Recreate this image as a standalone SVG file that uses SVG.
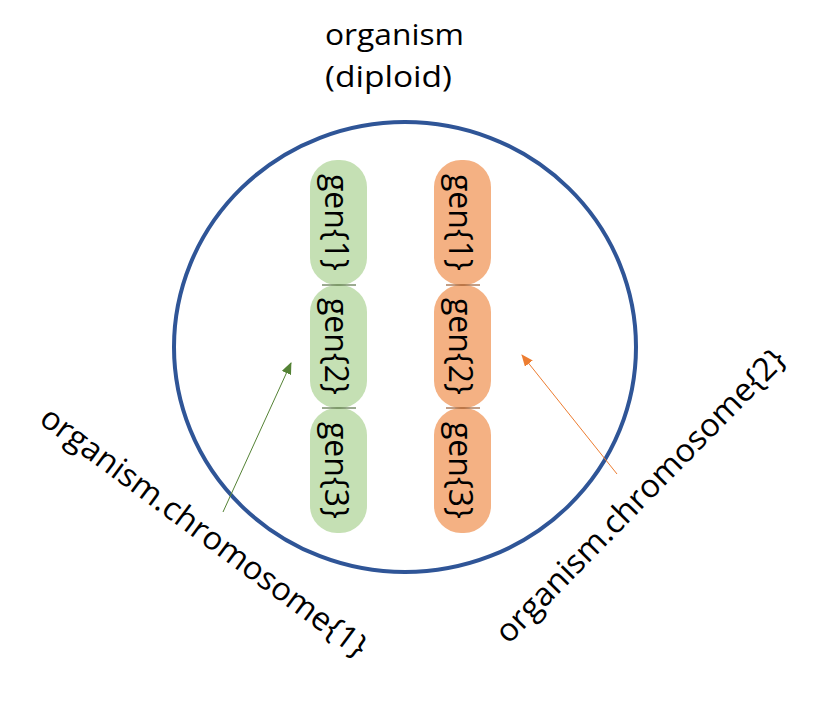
<svg xmlns="http://www.w3.org/2000/svg" width="823" height="701" viewBox="0 0 823 701">
<style>
text{font-family:"Open Sans","Noto Sans","Liberation Sans",sans-serif;fill:#000}
.t{font-size:30px}
.lab{font-size:32px}
.gene{font-size:32px}
.g{fill:#C5E0B4}
.o{fill:#F4B183}
.gl{stroke:#385723;stroke-width:1}
.ol{stroke:#843C0C;stroke-width:1}
</style>
<defs>
<marker id="ag" markerUnits="userSpaceOnUse" markerWidth="12" markerHeight="10" refX="11" refY="5" orient="auto"><path d="M0,0 L12,5 L0,10 z" fill="#548235"/></marker>
<marker id="ao" markerUnits="userSpaceOnUse" markerWidth="12" markerHeight="10" refX="11" refY="5" orient="auto"><path d="M0,0 L12,5 L0,10 z" fill="#ED7D31"/></marker>
</defs>
<rect width="823" height="701" fill="#fff"/>
<g id="title">
<text class="t" x="325" y="45" textLength="139" lengthAdjust="spacingAndGlyphs">organism</text>
<text class="t" x="325" y="87" textLength="127" lengthAdjust="spacingAndGlyphs">(diploid)</text>
</g>
<g id="organism">
<ellipse cx="405" cy="347" rx="231" ry="225" fill="none" stroke="#2F5597" stroke-width="4"/>
</g>
<g id="chromosome1">
<rect class="g" x="310" y="160" width="57" height="125" rx="27"/>
<rect class="g" x="310" y="285" width="57" height="123" rx="27"/>
<rect class="g" x="310" y="408" width="57" height="125" rx="27"/>
<line class="gl" x1="322" y1="285" x2="356" y2="285"/>
<line class="gl" x1="322" y1="408" x2="356" y2="408"/>
<text class="gene" transform="translate(325,222.5) rotate(90)" text-anchor="middle" textLength="97" lengthAdjust="spacingAndGlyphs">gen{1}</text>
<text class="gene" transform="translate(325,346.5) rotate(90)" text-anchor="middle" textLength="97" lengthAdjust="spacingAndGlyphs">gen{2}</text>
<text class="gene" transform="translate(325,470.5) rotate(90)" text-anchor="middle" textLength="97" lengthAdjust="spacingAndGlyphs">gen{3}</text>
</g>
<g id="chromosome2">
<rect class="o" x="434" y="160" width="57" height="125" rx="27"/>
<rect class="o" x="434" y="285" width="57" height="123" rx="27"/>
<rect class="o" x="434" y="408" width="57" height="125" rx="27"/>
<line class="ol" x1="446" y1="285" x2="480" y2="285"/>
<line class="ol" x1="446" y1="408" x2="480" y2="408"/>
<text class="gene" transform="translate(449,222.5) rotate(90)" text-anchor="middle" textLength="97" lengthAdjust="spacingAndGlyphs">gen{1}</text>
<text class="gene" transform="translate(449,346.5) rotate(90)" text-anchor="middle" textLength="97" lengthAdjust="spacingAndGlyphs">gen{2}</text>
<text class="gene" transform="translate(449,470.5) rotate(90)" text-anchor="middle" textLength="97" lengthAdjust="spacingAndGlyphs">gen{3}</text>
</g>
<g id="label1">
<text class="lab" transform="translate(197.7,540.5) rotate(36.5)" text-anchor="middle" textLength="398" lengthAdjust="spacingAndGlyphs">organism.chromosome{1}</text>
</g>
<g id="label2">
<text class="lab" transform="translate(648,503) rotate(-45.5)" text-anchor="middle" textLength="398" lengthAdjust="spacingAndGlyphs">organism.chromosome{2}</text>
</g>
<g id="connectors">
<line x1="223" y1="512" x2="291" y2="363" stroke="#548235" stroke-width="1" marker-end="url(#ag)"/>
<line x1="617" y1="474" x2="522" y2="355" stroke="#ED7D31" stroke-width="1" marker-end="url(#ao)"/>
</g>
</svg>
